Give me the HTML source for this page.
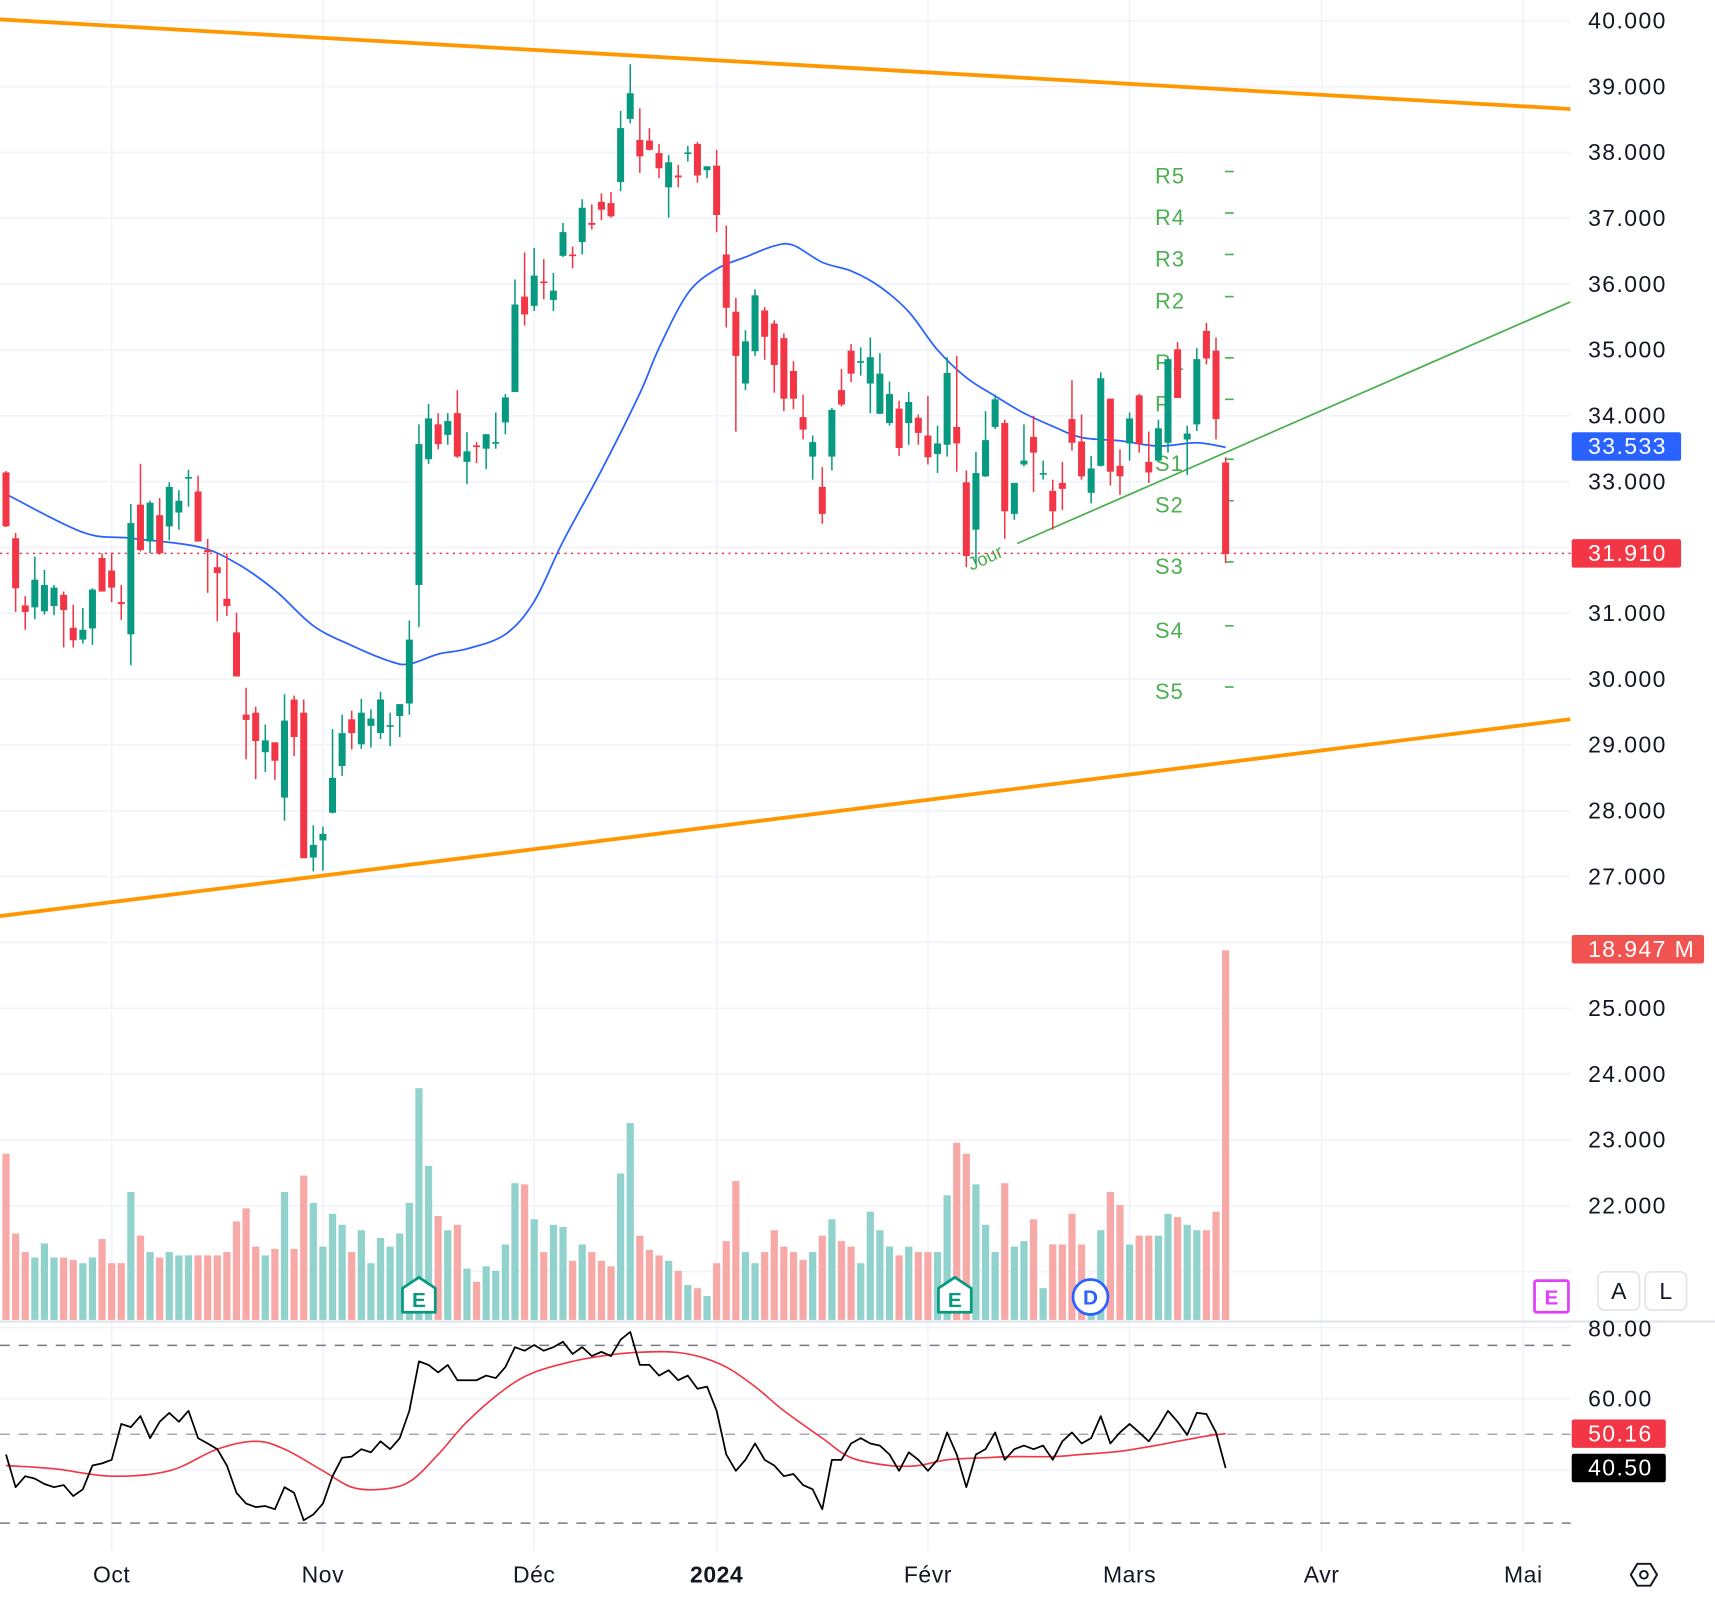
<!DOCTYPE html>
<html><head><meta charset="utf-8"><style>
html,body{margin:0;padding:0;background:#fff;}
svg{display:block;font-family:"Liberation Sans",sans-serif;}
</style></head><body>
<svg id="chart" width="1715" height="1601" viewBox="0 0 1568 1464" preserveAspectRatio="none" xmlns="http://www.w3.org/2000/svg">
<g id="grid"></g>
<g id="volume"></g>
<g id="overlays"></g>
<g id="candles"></g>
<g id="rsi"></g>
<g id="axes"></g>
</svg>
<script>
const opens=[33.14,32.14,31.12,31.09,31.03,31.11,31.28,30.78,30.60,30.77,31.84,31.65,31.17,30.68,32.65,32.09,32.49,32.32,32.53,33.05,32.85,31.96,31.70,31.22,30.71,29.46,29.49,28.89,29.04,28.20,29.69,29.49,27.29,27.55,27.97,28.68,29.39,29.01,29.29,29.18,29.28,29.44,29.63,31.43,33.34,33.87,33.71,34.04,33.30,33.55,33.50,33.58,33.90,34.36,35.81,35.67,36.04,35.76,36.43,36.45,36.64,36.93,37.25,37.23,37.55,38.51,38.19,38.18,37.99,37.47,37.65,37.98,38.13,37.73,37.80,36.45,35.58,34.49,34.98,35.60,35.40,35.18,34.68,33.98,33.38,32.92,33.38,34.39,34.99,34.81,34.49,34.03,33.89,34.11,33.89,33.97,33.70,33.42,33.56,33.83,32.99,32.27,33.08,33.83,33.89,32.51,33.26,33.68,33.11,32.86,32.98,33.95,33.61,32.83,33.24,34.26,33.24,33.58,34.31,33.30,33.32,33.59,35.01,33.64,33.87,35.29,34.99,33.29];
const highs=[33.16,32.22,31.26,31.86,31.66,31.43,31.33,31.13,31.08,31.38,31.91,31.92,31.43,32.66,33.27,32.71,32.75,32.99,32.87,33.18,33.09,32.13,31.91,31.91,31.01,29.87,29.58,29.31,29.04,29.77,29.75,29.69,27.78,27.76,29.24,29.46,29.52,29.70,29.54,29.81,29.49,29.62,30.89,33.87,34.18,34.04,34.04,34.39,33.75,33.60,33.72,34.05,34.33,36.07,36.48,36.55,36.38,36.17,36.93,36.57,37.29,37.21,37.38,37.40,38.63,39.34,38.67,38.37,38.13,37.96,37.81,38.10,38.16,37.79,38.04,36.89,35.79,35.30,35.92,35.65,35.45,35.25,34.83,34.32,33.70,33.22,34.12,34.71,35.09,35.04,35.19,34.95,34.52,34.23,34.36,34.02,34.30,33.85,34.89,34.91,33.17,33.45,34.07,34.32,33.94,32.98,33.87,34.00,33.32,33.03,33.30,34.54,34.02,33.39,34.66,34.26,33.49,34.05,34.33,33.76,33.94,34.86,35.12,33.85,35.03,35.41,35.19,33.37];
const lows=[32.31,31.02,30.75,30.91,30.98,30.97,30.48,30.48,30.54,30.52,31.33,31.17,30.90,30.21,31.94,31.91,31.89,32.11,32.27,32.62,32.09,31.31,30.88,30.96,30.04,28.78,28.48,28.59,28.47,27.85,28.83,27.28,27.08,27.09,27.96,28.53,28.93,28.94,28.96,29.09,28.98,29.12,29.46,30.79,33.27,33.49,33.56,33.36,32.96,33.28,33.19,33.50,33.72,34.36,35.37,35.59,35.77,35.59,36.41,36.24,36.45,36.83,36.97,37.01,37.41,38.44,37.69,38.03,37.61,37.01,37.47,37.86,37.54,37.61,36.79,35.34,33.76,34.39,34.91,34.85,34.35,34.07,34.10,33.64,33.03,32.36,33.17,34.14,34.51,34.61,34.04,34.03,33.85,33.39,33.56,33.56,33.26,33.13,33.38,33.15,31.70,31.76,33.07,33.80,32.13,32.42,33.23,32.84,33.03,32.27,32.57,33.47,33.03,32.67,33.23,32.94,32.80,33.32,33.44,32.98,33.31,33.44,34.27,33.10,33.77,34.78,33.64,31.76];
const closes=[32.32,31.38,31.02,31.51,31.43,31.39,31.05,30.59,30.75,31.36,31.33,31.39,31.14,32.37,31.96,32.68,31.91,32.92,32.71,33.07,32.09,31.93,31.61,31.11,30.04,29.38,29.06,29.07,28.76,29.37,29.12,27.28,27.48,27.65,28.50,29.18,29.18,29.49,29.40,29.69,29.30,29.62,30.60,33.57,33.96,33.57,33.92,33.38,33.46,33.53,33.72,33.60,34.28,35.69,35.54,36.13,36.02,35.90,36.79,36.43,37.16,36.90,37.13,37.03,38.37,38.90,37.94,38.04,37.76,37.85,37.62,38.00,37.65,37.79,37.05,35.64,34.91,35.13,35.83,35.20,34.77,34.26,34.26,33.79,33.60,32.51,34.09,34.17,34.64,34.83,34.89,34.64,34.33,33.51,34.21,33.74,33.37,33.58,34.65,33.58,31.87,33.13,33.63,34.25,32.55,32.98,33.32,33.44,33.13,32.55,32.89,33.59,33.08,33.20,34.57,33.15,33.08,33.96,33.57,33.14,33.81,34.86,34.27,33.73,34.86,34.87,33.95,31.90];
const volumesM=[8.52,4.43,3.48,3.20,3.92,3.20,3.20,3.08,2.91,3.20,4.15,2.91,2.91,6.56,4.32,3.48,3.20,3.48,3.31,3.31,3.31,3.31,3.31,3.48,5.05,5.72,3.76,3.31,3.64,6.56,3.64,7.40,6.00,3.76,5.44,4.88,3.48,4.60,2.91,4.20,3.76,4.43,6.00,11.88,7.90,5.33,4.60,4.88,2.63,1.96,2.75,2.52,3.87,7.01,6.95,5.16,3.48,4.88,4.77,3.03,3.87,3.48,3.03,2.75,7.51,10.09,4.32,3.59,3.31,3.03,2.52,1.79,1.63,1.23,2.91,4.04,7.12,3.48,2.91,3.48,4.60,3.76,3.48,3.08,3.48,4.32,5.16,4.04,3.76,2.91,5.55,4.60,3.76,3.31,3.76,3.48,3.48,3.48,6.39,9.08,8.52,6.95,4.88,3.48,7.01,3.76,4.04,5.16,1.63,3.87,3.87,5.44,3.87,1.79,4.60,6.56,5.89,3.87,4.32,4.32,4.32,5.44,5.27,4.88,4.60,4.60,5.55,18.947];
const maIdx=[0,8,13,20,24,28,32,36,40,42,45,48,52,55,58,62,66,68,71,74,77,80,82,85,88,91,94,97,100,103,106,109,112,116,120,124,127];
const maVal=[32.81,32.23,32.14,32.01,31.76,31.35,30.81,30.51,30.27,30.23,30.38,30.46,30.68,31.18,32.09,33.17,34.34,35.03,35.86,36.23,36.41,36.58,36.59,36.33,36.20,35.96,35.58,35.00,34.58,34.30,34.04,33.84,33.67,33.62,33.54,33.59,33.52];
const rsiVal=[44.3,35.1,38.2,37.5,36.0,35.1,35.7,32.6,34.5,41.2,41.8,42.8,52.9,52.0,55.1,48.9,53.5,56.0,53.5,56.6,48.9,47.4,45.8,41.2,33.5,30.5,29.5,29.8,28.9,35.1,33.5,25.8,27.4,30.5,38.2,43.4,43.7,45.8,44.9,48.0,45.8,48.9,56.6,70.5,69.5,67.4,69.5,65.2,65.2,65.2,66.5,65.8,68.9,74.5,73.5,75.1,73.5,74.5,76.0,72.6,74.5,72.0,73.2,72.0,76.6,78.8,69.5,69.5,66.5,68.0,65.2,66.5,62.8,63.4,56.6,44.3,39.7,42.8,47.4,42.8,41.2,38.2,38.8,35.7,34.5,28.9,42.8,42.8,47.4,48.9,47.4,46.8,44.3,39.7,44.9,42.8,39.7,42.8,50.5,44.3,35.1,44.3,45.8,50.5,42.8,45.8,46.8,45.8,46.8,42.8,48.0,50.5,47.4,48.9,55.1,47.4,50.5,52.9,50.5,48.0,52.0,56.6,53.5,49.8,56.0,55.7,50.5,40.5];
const rsiMaIdx=[0,5,11,17,22,26,29,33,36,39,42,45,48,52,55,59,62,65,69,72,75,78,81,85,88,92,95,98,102,105,109,112,116,119,122,125,127];
const rsiMaVal=[41.2,40.3,38.2,39.7,45.8,48.0,45.8,39.7,35.1,34.5,36.6,44.3,53.5,62.8,67.4,70.5,72.0,72.9,73.2,72.0,68.9,63.4,56.6,48.9,43.4,41.2,41.2,42.8,43.4,43.7,43.7,44.3,45.2,46.5,48.0,49.5,50.16];
const priceTicks=[40,39,38,37,36,35,34,33,31,30,29,28,27,25,24,23,22];
const monthLabels=["Oct","Nov","Déc","2024","Févr","Mars","Avr","Mai"];
const monthIdx=[11,33,55,74,96,117,137,158];
const pivotNames=["R5","R4","R3","R2","R1","P","S1","S2","S3","S4","S5"];
const pivotVals=[37.71,37.08,36.45,35.81,34.88,34.25,33.34,32.71,31.78,30.81,29.88];
const upperTrend=[[-0.63,40.02],[162.9,38.66]];
const lowerTrend=[[-0.63,26.40],[162.9,29.39]];
const dayTrend=[[105.3,32.06],[162.9,35.73]];
const lastPrice=31.91, maLast=33.533, rsiLast=40.50, rsiMaLast=50.16, volLast="18.947 M";

const NS="http://www.w3.org/2000/svg";
const xi=i=>5.5+i*8.78;
const yP=p=>19+(40-p)*60.2;
const yV=v=>1207-v/18.947*338;
const yR=r=>1279+(60-r)*3.25;
function mk(tag,attrs,parent){const e=document.createElementNS(NS,tag);for(const k in attrs)e.setAttribute(k,attrs[k]);parent.appendChild(e);return e;}
function smooth(pts){let d="M"+pts[0][0]+" "+pts[0][1];for(let i=0;i<pts.length-1;i++){const p0=pts[Math.max(0,i-1)],p1=pts[i],p2=pts[i+1],p3=pts[Math.min(pts.length-1,i+2)];
const c1=[p1[0]+(p2[0]-p0[0])/6,p1[1]+(p2[1]-p0[1])/6],c2=[p2[0]-(p3[0]-p1[0])/6,p2[1]-(p3[1]-p1[1])/6];
d+=` C${c1[0]} ${c1[1]} ${c2[0]} ${c2[1]} ${p2[0]} ${p2[1]}`;}return d;}
const G=id=>document.getElementById(id);
const grid=G('grid'),vol=G('volume'),ov=G('overlays'),cg=G('candles'),rg=G('rsi'),ax=G('axes');
const UP="#089981",DN="#f23645";

for(let p=40;p>=21;p--){const l=mk('line',{x1:0,x2:1436,y1:yP(p),y2:yP(p),stroke:"#f0f3fa","stroke-width":1.5},grid);
}
[80,60,40].forEach(r=>{const l=mk('line',{x1:0,x2:1436,y1:yR(r),y2:yR(r),stroke:"#f0f3fa","stroke-width":1.5},grid);
});
monthIdx.forEach(i=>{const l=mk('line',{x1:xi(i),x2:xi(i),y1:0,y2:1418,stroke:"#f0f3fa","stroke-width":1.5},grid);
});

volumesM.forEach((v,i)=>{const up=closes[i]>=opens[i];const r=mk('rect',{x:xi(i)-3.3,y:yV(v),width:6.6,height:1207-yV(v),fill:up?"#92d2cc":"#f7a9a7"},vol);
});

function tl(pts,color,w,name){const l=mk('line',{x1:xi(pts[0][0]),y1:yP(pts[0][1]),x2:xi(pts[1][0]),y2:yP(pts[1][1]),stroke:color,"stroke-width":w},ov);
}
tl(upperTrend,"#ff9800",3.5,'upper-trendline');
tl(lowerTrend,"#ff9800",3.5,'lower-trendline');
tl(dayTrend,"#4caf50",1.6,'support-trendline');
const jour=mk('text',{x:888,y:522,fill:"#4caf50","font-size":17,transform:"rotate(-24 888 522)"},ov);jour.textContent="Jour";

const pl=mk('line',{x1:0,x2:1436,y1:yP(lastPrice),y2:yP(lastPrice),stroke:"#f23645","stroke-width":1.3,"stroke-dasharray":"2 4"},ov);

pivotNames.forEach((n,k)=>{const y=yP(pivotVals[k]);
const t=mk('line',{x1:1120,x2:1128,y1:y,y2:y,stroke:"#4caf50","stroke-width":1.5},ov);

const tx=mk('text',{x:1056,y:y+11,fill:"#4caf50","font-size":20,"letter-spacing":1},ov);tx.textContent=n;
});
const ma=mk('path',{d:smooth(maIdx.map((i,k)=>[xi(i),yP(maVal[k])])),fill:"none",stroke:"#2962ff","stroke-width":1.6},ov);


opens.forEach((o,i)=>{const c=closes[i],up=c>=o,col=up?UP:DN,x=xi(i);
const w=mk('line',{x1:x,x2:x,y1:yP(highs[i]),y2:yP(lows[i]),stroke:col,"stroke-width":1.4},cg);

const top=yP(Math.max(o,c)),h=Math.max(1.5,Math.abs(yP(o)-yP(c)));
const b=mk('rect',{x:x-3.2,y:top,width:6.4,height:h,fill:col},cg);
});

function earn(x,label){const g=mk('g',{},ax);
mk('path',{d:`M${x} ${1168} L${x+15} ${1178} L${x+15} ${1200} L${x-15} ${1200} L${x-15} ${1178} Z`,fill:"#fff",stroke:"#089981","stroke-width":2.5,"stroke-linejoin":"round"},g);
const t=mk('text',{x:x,y:1195,"text-anchor":"middle",fill:"#089981","font-size":19,"font-weight":"bold"},g);t.textContent=label;}
earn(383,"E");earn(873,"E");
const dg=mk('g',{},ax);
mk('circle',{cx:997,cy:1186,r:16,fill:"#fff",stroke:"#2962ff","stroke-width":2.5},dg);
const dt=mk('text',{x:997,y:1193,"text-anchor":"middle",fill:"#2962ff","font-size":19,"font-weight":"bold"},dg);dt.textContent="D";

const sep=mk('line',{x1:0,x2:1568,y1:1208.5,y2:1208.5,stroke:"#e0e3eb","stroke-width":2},ax);


[75,50,25].forEach((r,k)=>{const l=mk('line',{x1:0,x2:1436,y1:yR(r),y2:yR(r),stroke:k==1?"#a8aab3":"#787b86","stroke-width":1.4,"stroke-dasharray":"9 8"},rg);
});
const rm=mk('path',{d:smooth(rsiMaIdx.map((i,k)=>[xi(i),yR(rsiMaVal[k])])),fill:"none",stroke:"#f23645","stroke-width":1.5},rg);

const rl=mk('polyline',{points:rsiVal.map((r,i)=>xi(i)+","+yR(r)).join(" "),fill:"none",stroke:"#000","stroke-width":1.6,"stroke-linejoin":"round"},rg);


function lab(txt,x,y,opt){const t=mk('text',Object.assign({x:x,y:y,fill:"#131722","font-size":21,"letter-spacing":1.3},opt||{}),ax);t.textContent=txt;return t;}
priceTicks.forEach(p=>{const t=lab(p.toFixed(3),1452,yP(p)+7);
});
[["80.00",1222],["60.00",1286]].forEach(a=>{const t=lab(a[0],1452,a[1]);});
monthLabels.forEach((m,k)=>{const t=lab(m,xi(monthIdx[k]),1447,{"text-anchor":"middle","font-weight":m==="2024"?"bold":"normal","letter-spacing":0.5});
});
function badge(txt,y,w,bg,name){const g=mk('g',{},ax);
mk('rect',{x:1437,y:y-13,width:w,height:26,rx:2,fill:bg},g);
const t=mk('text',{x:1452,y:y+7,fill:"#fff","font-size":21,"letter-spacing":1.3},g);t.textContent=txt;}
badge(maLast.toFixed(3),yP(maLast),100,"#2962ff",'ma-value-badge');
badge(lastPrice.toFixed(3),yP(lastPrice),100,"#f23645",'last-price-badge');
badge(volLast,868,121,"#f05350",'volume-value-badge');
badge(rsiMaLast.toFixed(2),yR(rsiMaLast),86,"#f23645",'rsi-ma-badge');
badge(rsiLast.toFixed(2),yR(rsiLast),86,"#000",'rsi-value-badge');
const eb=mk('g',{},ax);
mk('rect',{x:1403,y:1171,width:31,height:29,rx:2,fill:"#fff",stroke:"#e040fb","stroke-width":2.5},eb);
const et=mk('text',{x:1418.5,y:1193,"text-anchor":"middle",fill:"#e040fb","font-size":19,"font-weight":"bold"},eb);et.textContent="E";
[["A",1480,'auto-scale-button'],["L",1523,'log-scale-button']].forEach(a=>{const g=mk('g',{},ax);
mk('rect',{x:a[1]-19,y:1163,width:38,height:35,rx:6,fill:"#fff",stroke:"#e0e3eb","stroke-width":1.5},g);
const t=mk('text',{x:a[1],y:1188,"text-anchor":"middle",fill:"#131722","font-size":21},g);t.textContent=a[0];});
const sg=mk('g',{},ax);
mk('path',{d:"M1491 1440 L1497 1430 L1509 1430 L1515 1440 L1509 1450 L1497 1450 Z",fill:"none",stroke:"#131722","stroke-width":1.8,"stroke-linejoin":"round"},sg);
mk('circle',{cx:1503,cy:1440,r:3.5,fill:"none",stroke:"#131722","stroke-width":1.8},sg);
</script>
</body></html>
